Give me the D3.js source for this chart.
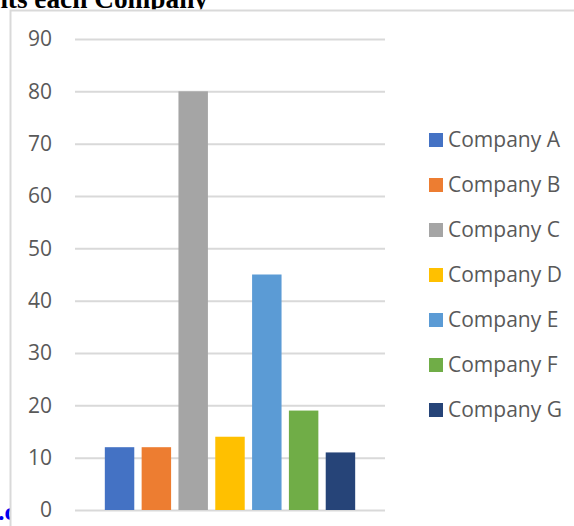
<!DOCTYPE html>
<html>
<head>
<meta charset="utf-8">
<script src="https://cdn.jsdelivr.net/npm/d3@7"></script>
<style>
  html, body { margin: 0; padding: 0; background: #fff; }
  svg { display: block; }
</style>
</head>
<body>
<svg id="chart" width="574" height="526"></svg>
<script>
// Students per company
const companies = ["Company A", "Company B", "Company C", "Company D", "Company E", "Company F", "Company G"];
const students = [12, 12, 80, 14, 45, 19, 11];
const colors = ["#4472C4", "#ED7D31", "#A5A5A5", "#FFC000", "#5B9BD5", "#70AD47", "#264478"];
const yTicks = [0, 10, 20, 30, 40, 50, 60, 70, 80, 90];
const titleText = "Number of Students each Company";
const captionText = "Fig.c";

const svg = d3.select("#chart");
const font = "'Open Sans', 'Noto Sans', sans-serif";
const serif = "'Liberation Serif', 'Times New Roman', serif";

// Page text around the chart (drawn first so the chart box sits on top)
svg.append("text")
  .attr("x", 208).attr("y", 8)
  .attr("text-anchor", "end")
  .attr("font-family", serif)
  .attr("font-weight", "bold")
  .attr("font-size", 27.3)
  .attr("fill", "#000")
  .text(titleText);

svg.append("text")
  .attr("x", 16).attr("y", 520)
  .attr("text-anchor", "end")
  .attr("font-family", serif)
  .attr("font-weight", "bold")
  .attr("font-size", 26)
  .attr("fill", "#0000ee")
  .text(captionText);

// Chart box
svg.append("rect")
  .attr("x", 10).attr("y", 9.5)
  .attr("width", 600).attr("height", 600)
  .attr("fill", "#fff");
svg.append("path")
  .attr("d", "M10.5,526 V10.5 H574")
  .attr("fill", "none")
  .attr("stroke", "#d9d9d9")
  .attr("stroke-width", 2);

const x = d3.scaleBand()
  .domain(companies)
  .range([75, 385])
  .paddingInner(0.2)
  .paddingOuter(0.81);

const y = d3.scaleLinear()
  .domain([0, 90])
  .range([510, 39]);

// Gridlines and tick labels
const yAxis = d3.axisLeft(y)
  .tickValues(yTicks)
  .tickSize(0)
  .tickPadding(23)
  .tickFormat(d3.format("d"));

const gAxis = svg.append("g")
  .attr("transform", "translate(75,0)")
  .call(yAxis);
gAxis.select(".domain").remove();
gAxis.selectAll(".tick line")
  .attr("x1", 0).attr("x2", 310)
  .attr("stroke", "#d9d9d9")
  .attr("stroke-width", 2);
gAxis.selectAll(".tick text")
  .attr("font-family", font)
  .attr("font-size", 21)
  .attr("fill", "#595959");

// Bars
svg.append("g")
  .selectAll("rect")
  .data(companies)
  .join("rect")
  .attr("x", d => x(d))
  .attr("width", x.bandwidth())
  .attr("y", (d, i) => y(students[i]))
  .attr("height", (d, i) => y(0) - y(students[i]))
  .attr("fill", (d, i) => colors[i]);

// Legend
const legend = svg.append("g")
  .selectAll("g")
  .data(companies)
  .join("g")
  .attr("transform", (d, i) => `translate(429,${140 + i * 45})`);
legend.append("rect")
  .attr("x", 0).attr("y", -7)
  .attr("width", 14).attr("height", 14)
  .attr("fill", (d, i) => colors[i]);
legend.append("text")
  .attr("x", 19).attr("y", 0)
  .attr("dy", "0.35em")
  .attr("font-family", font)
  .attr("font-size", 21)
  .attr("fill", "#595959")
  .text(d => d);
</script>
</body>
</html>
